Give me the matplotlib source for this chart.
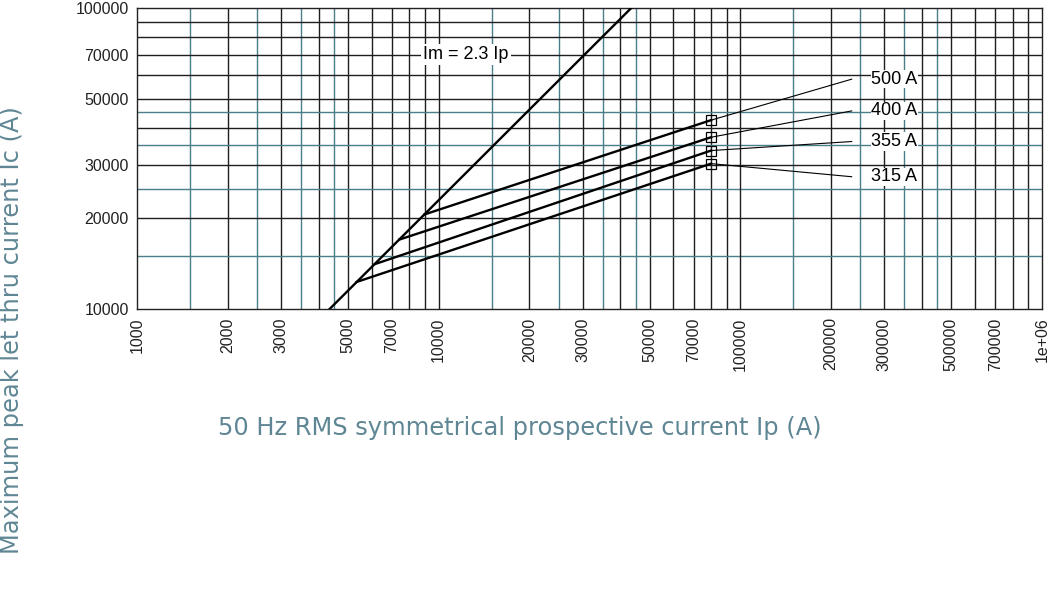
import numpy as np
import matplotlib
matplotlib.use('Agg')
import matplotlib.pyplot as plt

# fuse let-through current data (log-log)
fuse_labels = ['500 A', '400 A', '355 A', '315 A']
knee_ip = [8960, 7400, 6150, 5350]          # where each fuse leaves the 2.3 Ip line
knee_ic = [20600, 17000, 14100, 12300]
end_ip = 80000                               # square markers
end_ic = [42400, 37200, 33600, 30400]
leader_ip = 234000                           # leader line end / label position
leader_ic = [58000, 45500, 36000, 27500]
label_ip = 272000

im_ip = [4350, 43500]                        # Im = 2.3 Ip
im_ic = [10000, 100000]

xticks = [1000, 2000, 3000, 5000, 7000, 10000, 20000, 30000, 50000, 70000,
          100000, 200000, 300000, 500000, 700000, 1000000]
xticklabels = ['1000', '2000', '3000', '5000', '7000', '10000', '20000', '30000',
               '50000', '70000', '100000', '200000', '300000', '500000', '700000', '1e+06']
yticks = [10000, 20000, 30000, 50000, 70000, 100000]
yticklabels = ['10000', '20000', '30000', '50000', '70000', '100000']

teal = '#4a7e88'
dark = '#1e1e1e'
label_col = '#5f8694'

plt.rcParams['font.family'] = ['Liberation Sans', 'DejaVu Sans']

fig = plt.figure(figsize=(10.51, 5.91), dpi=100)
ax = fig.add_axes([0.1304, 0.4772, 0.861, 0.5093])
ax.set_xscale('log')
ax.set_yscale('log')
ax.set_xlim(1000, 1e6)
ax.set_ylim(1e4, 1e5)

# grid: black at 1..9 per decade, teal at 1.5/2.5/3.5/4.5
for dec in [1e3, 1e4, 1e5]:
    for m in range(2, 10):
        ax.axvline(dec * m, color=dark, lw=1.0, zorder=1)
    for m in [1.5, 2.5, 3.5, 4.5]:
        ax.axvline(dec * m, color=teal, lw=1.0, zorder=1)
for dec in [1e4]:
    for m in range(2, 10):
        ax.axhline(dec * m, color=dark, lw=1.0, zorder=1)
    for m in [1.5, 2.5, 3.5, 4.5]:
        ax.axhline(dec * m, color=teal, lw=1.0, zorder=1)
ax.axvline(1e4, color=dark, lw=1.0, zorder=1)
ax.axvline(1e5, color=dark, lw=1.0, zorder=1)

ax.plot(im_ip, im_ic, color='black', lw=1.7, zorder=3)
ax.text(12300, 70000, 'Im = 2.3 Ip', fontsize=13, ha='center', va='center', zorder=4,
        bbox=dict(facecolor='white', edgecolor='none', pad=1.5))

for i in range(len(fuse_labels)):
    ax.plot([knee_ip[i], end_ip], [knee_ic[i], end_ic[i]], color='black', lw=1.7, zorder=3)
    ax.plot([end_ip, leader_ip], [end_ic[i], leader_ic[i]], color='black', lw=0.8, zorder=3)
    ax.plot(end_ip, end_ic[i], marker='s', ms=6.5, mfc='none', mec='black', mew=0.9, zorder=4)
    ax.text(label_ip, leader_ic[i], fuse_labels[i], fontsize=13, ha='left', va='center',
            zorder=4, bbox=dict(facecolor='white', edgecolor='none', pad=0.5))

ax.set_xticks(xticks)
ax.set_xticklabels(xticklabels, rotation=90)
ax.set_yticks(yticks)
ax.set_yticklabels(yticklabels)
ax.xaxis.set_minor_locator(matplotlib.ticker.NullLocator())
ax.yaxis.set_minor_locator(matplotlib.ticker.NullLocator())
ax.tick_params(length=0, labelsize=11.5, colors='#222222', pad=6)
for s in ax.spines.values():
    s.set_color('#222222')
    s.set_linewidth(1.0)

fig.text(0.4948, 0.2758, '50 Hz RMS symmetrical prospective current Ip (A)',
         fontsize=17.4, color=label_col, ha='center', va='center', family=['DejaVu Sans'])
fig.text(0.0114, 0.4416, 'Maximum peak let thru current Ic (A)', rotation=90,
         fontsize=17.4, color=label_col, ha='center', va='center', family=['DejaVu Sans'])

fig.savefig('out.png', dpi=100)
